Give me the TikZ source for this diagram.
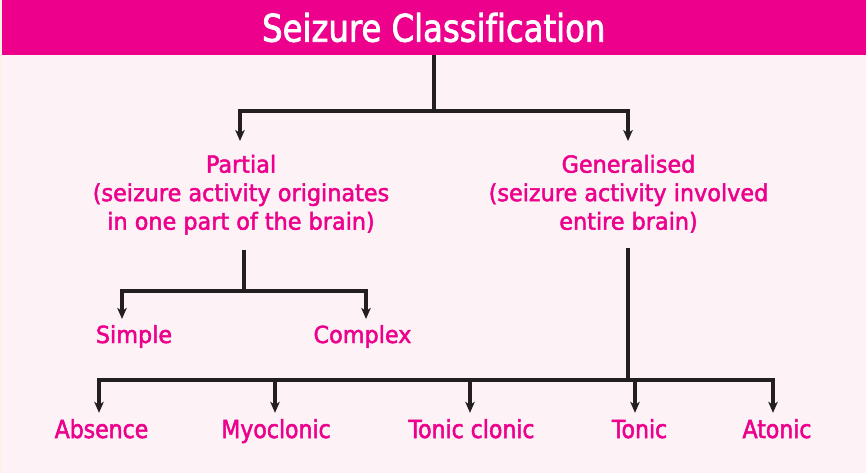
\documentclass[tikz,border=0pt]{standalone}
\usepackage{fontspec}
\setmainfont{DejaVu Sans}
\newfontfamily\titlefont{DejaVu Sans}[FakeStretch=0.85, FakeBold=2, Ligatures=NoCommon]
\newfontfamily\midfont{DejaVu Sans}[FakeStretch=0.95, FakeBold=2, Ligatures=NoCommon]
\newfontfamily\lowfont{DejaVu Sans}[FakeStretch=0.88, FakeBold=2, Ligatures=NoCommon]
\usetikzlibrary{arrows.meta}
\definecolor{magenta}{HTML}{EC008C}
\definecolor{bgpink}{HTML}{FDF2F6}
\definecolor{cream}{HTML}{FCF3E4}
\definecolor{ink}{HTML}{231F20}
\tikzset{
  band/.style={fill=magenta, text=white, inner sep=0pt, minimum width=864.5pt, minimum height=55pt,
    font=\titlefont\fontsize{38}{40}\selectfont},
  midlabel/.style={text=magenta, inner sep=0pt, align=center,
    font=\midfont\fontsize{23.5}{28.5}\selectfont},
  lowlabel/.style={text=magenta, inner sep=0pt, anchor=base,
    font=\lowfont\fontsize{25}{28}\selectfont},
  conn/.style={draw=ink, line width=3.2pt},
  arr/.style={conn, -{Stealth[length=11pt,width=9.5pt,inset=3pt]}}
}
\begin{document}
\begin{tikzpicture}[x=1pt,y=-1pt]
\useasboundingbox (0,0) rectangle (866,473);
\fill[bgpink] (0,0) rectangle (866,473);
\fill[cream] (0,0) rectangle (1.5,473);

\node[band] (head) at (433.75,27.5) {Seizure Classification};

\node[midlabel, anchor=north] (partial) at (241,154.6) {Partial\\(seizure activity originates\\in one part of the brain)};
\node[midlabel, anchor=north] (general) at (628.5,154.6) {Generalised\\(seizure activity involved\\entire brain)};

\node[midlabel, anchor=base] (simple) at (134,343) {Simple};
\node[midlabel, anchor=base] (complex) at (362.5,343) {Complex};

\node[lowlabel] (absence) at (101.5,438) {Absence};
\node[lowlabel] (myo) at (276,438) {Myoclonic};
\node[lowlabel] (tc) at (471.5,438) {Tonic clonic};
\node[lowlabel] (tonic) at (639.5,438) {Tonic};
\node[lowlabel] (atonic) at (777,438) {Atonic};

\coordinate (j1) at (434,111);
\coordinate (pj) at (244,291);
\coordinate (gj) at (628,380);

% top level
\draw[conn] (head.south -| j1) -- (j1);
\draw[arr, shorten >=13.6pt] (j1) -| ([xshift=-1pt]partial.north);
\draw[arr, shorten >=13.6pt] (j1) -| ([xshift=-0.5pt]general.north);

% partial branch
\draw[conn, shorten <=15pt] (partial.south -| pj) -- (pj);
\draw[arr, shorten >=6pt] (pj) -| ([xshift=-12pt]simple.north);
\draw[arr, shorten >=6pt] (pj) -| ([xshift=3.5pt]complex.north);

% generalised branch
\draw[conn, shorten <=15pt] (general.south -| gj) -- (gj);
\draw[arr, shorten >=6pt] (gj) -| ([xshift=-2.5pt]absence.north);
\draw[arr, shorten >=6pt] (gj) -| ([xshift=-1pt]myo.north);
\draw[arr, shorten >=6pt] (gj) -| ([xshift=-1.5pt]tc.north);
\draw[arr, shorten >=6pt] (gj) -| ([xshift=-4.5pt]tonic.north);
\draw[arr, shorten >=6pt] (gj) -| ([xshift=-4pt]atonic.north);
\end{tikzpicture}
\end{document}
